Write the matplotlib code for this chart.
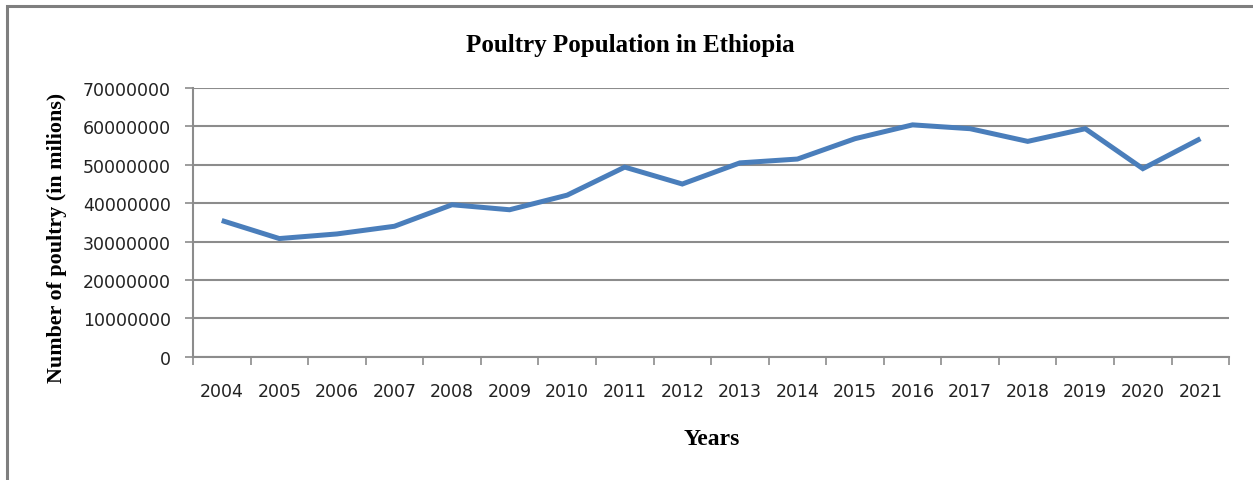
import numpy as np
import matplotlib
matplotlib.use('Agg')
import matplotlib.pyplot as plt
from matplotlib.patches import Rectangle

# Poultry population by year
years = ['2004', '2005', '2006', '2007', '2008', '2009', '2010', '2011', '2012',
         '2013', '2014', '2015', '2016', '2017', '2018', '2019', '2020', '2021']
poultry = [35500000, 30800000, 32000000, 34000000, 39600000, 38300000, 42100000,
           49400000, 45000000, 50500000, 51500000, 56800000, 60400000, 59400000,
           56100000, 59400000, 49000000, 56800000]
y_ticks = [0, 10000000, 20000000, 30000000, 40000000, 50000000, 60000000, 70000000]

grid_color = '#8c8c8c'
line_color = '#4a7ebb'
serif = ['Liberation Serif', 'DejaVu Serif']

fig = plt.figure(figsize=(12.53, 4.81), dpi=100)
ax = fig.add_axes([0.154, 0.256, 0.827, 0.559])

# chart frame
fig.patches.append(Rectangle((0.0056, -0.05), 1.2, 1.036, transform=fig.transFigure,
                             fill=False, edgecolor='#7f7f7f', linewidth=2.2))

x = np.arange(len(years))
ax.plot(x, poultry, color=line_color, linewidth=3.6, solid_joinstyle='miter',
        solid_capstyle='butt', zorder=3)

ax.set_xlim(-0.5, len(years) - 0.5)
ax.set_ylim(0, 70000000)
ax.set_yticks(y_ticks)
ax.set_yticklabels([str(v) for v in y_ticks])
ax.yaxis.grid(True, color=grid_color, linewidth=1.5)
ax.set_axisbelow(True)

# category ticks sit between the years, labels at the centres
ax.set_xticks(np.arange(len(years) + 1) - 0.5)
ax.set_xticklabels([])
ax.set_xticks(x, minor=True)
ax.set_xticklabels(years, minor=True)
ax.tick_params(axis='x', which='major', length=6, width=1.2, color=grid_color, direction='out')
ax.tick_params(axis='x', which='minor', length=0, pad=18, labelsize=12.5, labelcolor='#222222')
ax.tick_params(axis='y', length=6, width=1.2, color=grid_color, pad=10,
               labelsize=12.5, labelcolor='#222222')

for side in ['top', 'right']:
    ax.spines[side].set_visible(False)
for side in ['left', 'bottom']:
    ax.spines[side].set_color(grid_color)
    ax.spines[side].set_linewidth(1.5)

fig.text(0.503, 0.905, 'Poultry Population in Ethiopia', ha='center', va='center',
         fontsize=18, fontweight='bold', family=serif)
fig.text(0.0455, 0.505, 'Number of poultry (in milions)', ha='center', va='center',
         rotation=90, fontsize=15.8, fontweight='bold', family=serif)
fig.text(0.568, 0.087, 'Years', ha='center', va='center', fontsize=17,
         fontweight='bold', family=serif)

fig.savefig('out.png', dpi=100, facecolor='white')
